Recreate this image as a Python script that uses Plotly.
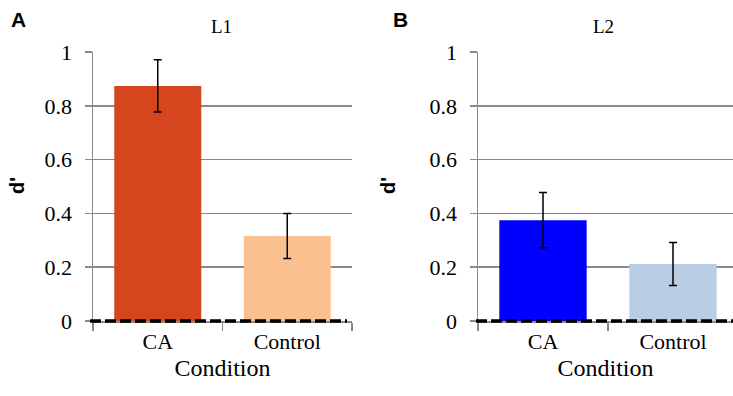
import plotly.graph_objects as go

categories = ["CA", "Control"]
l1_values = [0.874, 0.316]
l1_errors = [0.097, 0.084]
l2_values = [0.375, 0.212]
l2_errors = [0.103, 0.080]
y_ticks = [0, 0.2, 0.4, 0.6, 0.8, 1.0]
y_ticktext = ["0", "0.2", "0.4", "0.6", "0.8", "1"]
baseline = 0

W, H = 733, 396
serif = "Liberation Serif, serif"
sans = "Liberation Sans, sans-serif"
grid = "#8a8a8a"

fig = go.Figure()
fig.add_trace(go.Bar(
    x=categories, y=l1_values, xaxis="x", yaxis="y",
    marker=dict(color=["#D5461F", "#FAC090"], line=dict(width=0)),
    error_y=dict(type="data", array=l1_errors, color="black", thickness=1.5, width=4),
    showlegend=False,
))
fig.add_trace(go.Bar(
    x=categories, y=l2_values, xaxis="x2", yaxis="y2",
    marker=dict(color=["#0000FF", "#B9CDE5"], line=dict(width=0)),
    error_y=dict(type="data", array=l2_errors, color="black", thickness=1.5, width=4),
    showlegend=False,
))

def px_x(p):
    return p / W

def px_y(p):
    return 1 - p / H

y_lo, y_hi = 0.0, 1.0
ydom = [px_y(321), px_y(52)]
xaxis_common = dict(
    type="category", showgrid=False, zeroline=False, automargin=False,
    showline=True, linecolor=grid, linewidth=1.5,
    ticks="outside", tickson="boundaries", ticklen=8, tickcolor=grid, tickwidth=1.5,
    tickfont=dict(family=serif, size=22, color="black"),
    title=dict(text="Condition", font=dict(family=serif, size=24, color="black"), standoff=6),
    fixedrange=True,
)
yaxis_common = dict(
    range=[y_lo, y_hi], tickvals=y_ticks, ticktext=y_ticktext, automargin=False,
    showgrid=True, gridcolor=grid, gridwidth=1.5, zeroline=False,
    showline=True, linecolor=grid, linewidth=1.5,
    ticks="outside", ticklen=7, tickcolor=grid, tickwidth=1.5,
    tickfont=dict(family=serif, size=22, color="black"),
    ticklabelstandoff=8,
    domain=ydom, fixedrange=True,
)

fig.update_layout(
    template="none",
    width=W, height=H, autosize=False,
    font=dict(family=serif, size=22, color="black"),
    margin=dict(l=0, r=0, t=0, b=0, pad=0, autoexpand=False),
    paper_bgcolor="white", plot_bgcolor="white",
    bargap=0.328,
    xaxis=dict(domain=[px_x(93), px_x(352)], range=[-0.5, 1.5], anchor="y", **xaxis_common),
    yaxis=dict(anchor="x", **yaxis_common),
    xaxis2=dict(domain=[px_x(478), 1.0], range=[-0.5, 1.4615], anchor="y2", **xaxis_common),
    yaxis2=dict(anchor="x2", **yaxis_common),
)

# dashed zero reference lines (paper coords so they are not clipped by the plot area)
y_base = ydom[0] + (baseline - y_lo) / (y_hi - y_lo) * (ydom[1] - ydom[0])
for x0, x1 in [(px_x(90), px_x(347)), (px_x(476), 1.0)]:
    fig.add_shape(type="line", xref="paper", yref="paper", x0=x0, x1=x1, y0=y_base, y1=y_base,
                  line=dict(color="black", width=3.5, dash="11px,4px"), layer="above")

annots = [
    dict(text="<b>A</b>", x=px_x(18), y=px_y(20), font=dict(family=sans, size=21, color="black")),
    dict(text="<b>B</b>", x=px_x(400), y=px_y(20), font=dict(family=sans, size=21, color="black")),
    dict(text="L1", x=px_x(222), y=px_y(27), font=dict(family=serif, size=19, color="black")),
    dict(text="L2", x=px_x(603), y=px_y(27), font=dict(family=serif, size=19, color="black")),
    dict(text="<b>d'</b>", x=px_x(17), y=px_y(186), textangle=-90, font=dict(family=sans, size=20, color="black")),
    dict(text="<b>d'</b>", x=px_x(388), y=px_y(186), textangle=-90, font=dict(family=sans, size=20, color="black")),
]
for a in annots:
    fig.add_annotation(xref="paper", yref="paper", xanchor="center", yanchor="middle",
                       showarrow=False, **a)

fig.write_html(
    "out.html",
    config={"displayModeBar": False, "staticPlot": True},
    post_script="document.body.style.margin='0';document.body.style.padding='0';document.body.style.overflow='hidden';",
)
